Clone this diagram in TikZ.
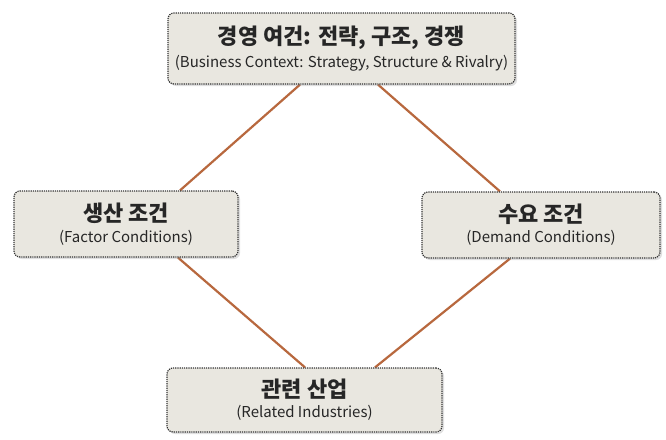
\documentclass[tikz,border=0pt]{standalone}
\usepackage{fontspec}
\setmainfont{Noto Sans CJK KR}
\usetikzlibrary{shadows,backgrounds}
\definecolor{boxfill}{HTML}{E9E7E0}
\definecolor{boxline}{HTML}{333333}
\definecolor{linkcore}{HTML}{B8683E}
\definecolor{linkglow}{HTML}{F6B890}
\tikzset{
    %Define style for the condition boxes
    cond/.style={
           draw=boxline,
           densely dotted,
           line width=1.2pt,
           rounded corners=6pt,
           fill=boxfill,
           text=black!85,
           align=center,
           inner sep=0pt,
           drop shadow={opacity=0.25,shadow xshift=2pt,shadow yshift=-2pt}},
    % Define link style
    link/.style={
           line width=2.2pt,
           draw=linkcore,
           preaction={draw=linkglow,line width=7pt,opacity=0.5}}
}
% title (korean) and subtitle (english) fonts
\newcommand{\ktitle}[1]{{\fontsize{22}{24}\selectfont\bfseries #1}}
\newcommand{\etitle}[1]{{\fontsize{15}{17}\selectfont #1}}
\begin{document}
\begin{tikzpicture}[x=1pt,y=-1pt]
    \useasboundingbox (0,0) rectangle (666,439);

    % the four determinants
    \node[cond, minimum width=347pt, minimum height=71pt] (context) at (341.5,48.5)
        {\ktitle{경영 여건: 전략, 구조, 경쟁}\\[5pt]\etitle{(Business Context: Strategy, Structure \& Rivalry)}};
    \node[cond, minimum width=224pt, minimum height=66pt] (factor) at (126,224)
        {\ktitle{생산 조건}\\[5pt]\etitle{(Factor Conditions)}};
    \node[cond, minimum width=238pt, minimum height=66pt] (demand) at (541,225)
        {\ktitle{수요 조건}\\[5pt]\etitle{(Demand Conditions)}};
    \node[cond, minimum width=275pt, minimum height=64pt] (related) at (304.5,400)
        {\ktitle{관련 산업}\\[5pt]\etitle{(Related Industries)}};

    % white page, then the links behind the boxes
    \begin{scope}[on background layer]
    \fill[white] (0,0) rectangle (666,439);
    \path[link] ([xshift=-41.5pt]context.south) edge ([xshift=54pt]factor.north)
                ([xshift=36.5pt]context.south)  edge ([xshift=-41pt]demand.north)
                ([xshift=52pt]factor.south)     edge ([xshift=0.5pt]related.north)
                ([xshift=-31pt]demand.south)    edge ([xshift=70.5pt]related.north);
    \end{scope}
\end{tikzpicture}
\end{document}
